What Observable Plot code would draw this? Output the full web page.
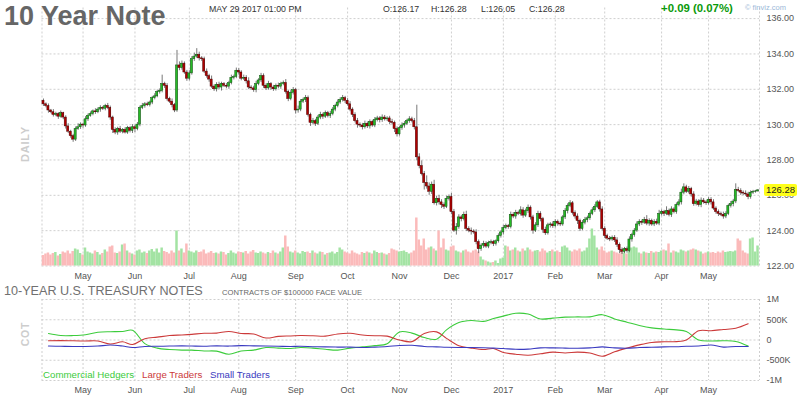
<!DOCTYPE html>
<html><head><meta charset="utf-8">
<script src="https://cdn.jsdelivr.net/npm/d3@7"></script>
<script src="https://cdn.jsdelivr.net/npm/@observablehq/plot@0.6"></script>
<style>
body{margin:0;background:#fff;}
#wrap{position:relative;width:800px;height:398px;overflow:hidden;font-family:Arial,"Liberation Sans",sans-serif;background:#fff;}
#wrap svg{position:absolute;left:0;}
.t{position:absolute;white-space:nowrap;line-height:1;}
</style></head><body><div id="wrap"></div>
<script>
// ---------- data ----------
const startDate = "2016-04-08", endDate = "2017-05-29";
const holidays = ["2016-05-30","2016-07-04","2016-09-05","2016-11-24","2016-12-26","2017-01-02","2017-04-14"];
const firstOpen = 131.35;
const closes = [
131.15,131.05,130.80,130.70,130.55,130.60,130.45,130.65,130.40,129.90,
129.60,129.35,129.15,129.75,129.85,130.00,129.95,130.30,130.50,130.60,
130.75,130.70,130.85,130.95,130.90,131.05,130.95,130.40,129.70,129.55,
129.75,129.60,129.70,129.55,129.80,129.65,129.85,129.75,130.00,130.95,
131.05,131.15,131.10,131.25,131.50,131.60,131.85,131.90,132.30,132.20,
131.45,131.30,131.10,130.80,133.35,133.20,133.45,132.95,132.60,132.90,
133.70,133.85,133.95,133.75,133.70,133.00,132.75,132.55,132.15,132.00,
132.25,132.10,132.30,132.20,132.15,132.35,132.65,132.70,133.05,132.95,
132.60,132.65,132.45,132.10,132.05,131.95,132.30,132.50,132.75,132.20,
132.05,132.30,132.10,132.00,132.20,132.15,132.30,132.35,131.85,131.45,
131.80,131.95,130.80,130.85,131.30,131.40,131.50,130.55,130.10,130.20,
130.05,130.40,130.55,130.45,130.65,130.50,130.60,130.85,131.05,131.25,
131.40,131.50,131.35,131.15,130.85,130.55,130.20,130.00,129.95,129.85,
130.05,129.90,130.15,129.95,130.25,130.35,130.25,130.40,130.30,130.35,
130.15,130.10,129.75,129.45,129.80,129.95,130.05,130.20,130.30,130.20,
129.85,128.15,127.65,127.20,126.70,126.50,126.20,126.60,125.55,125.80,
125.60,125.45,125.35,125.80,125.90,125.05,124.00,124.20,124.75,124.65,
124.90,124.10,124.00,123.95,123.90,123.35,122.95,123.15,123.25,123.10,
123.30,123.35,123.25,123.40,123.70,123.90,124.15,124.25,124.20,124.90,
124.80,125.00,124.95,125.15,124.85,125.10,125.30,124.75,124.00,124.30,
124.95,124.65,124.05,123.85,124.30,124.35,124.25,124.50,124.40,124.35,
124.75,125.10,125.40,125.55,125.00,124.80,124.55,124.10,124.45,124.60,
124.70,124.95,125.15,125.35,125.60,125.20,124.10,123.70,123.55,123.50,
123.60,123.45,123.20,122.90,122.80,122.95,122.85,123.50,123.75,124.00,
124.35,124.50,124.45,124.60,124.40,124.55,124.35,124.50,124.40,124.95,
125.05,124.95,125.10,124.90,125.20,125.05,125.45,125.60,126.15,126.45,
126.20,126.35,126.05,125.50,125.65,125.45,125.70,125.60,125.55,125.75,
125.60,125.25,125.05,124.95,124.90,124.80,124.95,125.40,125.50,125.65,
126.30,126.25,126.15,126.10,126.05,125.90,126.15,126.20,126.22,126.28];
// wick lengths above / below the body, in hundredths
const upperWick = [
10,8,12,6,15,10,8,12,5,10, 15,8,10,12,20,10,8,15,10,12, 8,15,10,12,8,10,15,10,8,12,
10,15,8,12,10,8,15,10,12,10, 15,10,12,8,10,15,10,12,50,10, 12,10,15,10,85,20,15,10,12,15,
15,20,35,15,10,12,15,10,20,10, 12,15,10,8,12,10,15,10,15,12, 10,15,12,20,10,12,15,10,15,12,
10,15,8,12,10,15,10,12,20,10, 12,15,10,20,12,10,15,12,10,15, 10,12,15,10,12,10,15,12,10,15,
12,15,10,12,15,10,12,15,10,12, 15,10,12,10,15,12,10,15,12,10, 12,15,10,12,10,15,12,10,15,12,
15,125,20,30,15,40,20,15,25,15, 20,15,12,15,12,20,15,20,15,12, 15,20,12,15,10,15,12,10,15,12,
10,12,10,8,12,10,15,12,10,15, 12,15,10,20,15,12,15,10,12,15, 15,12,10,15,12,10,15,12,10,12,
10,15,12,15,10,12,15,10,12,15, 12,10,15,12,10,12,15,12,10,12, 10,12,15,10,12,10,12,15,10,12,
15,12,10,15,25,12,10,12,15,20, 12,10,25,12,15,10,12,15,20,20, 12,15,10,15,12,10,15,12,10,12,
12,15,10,12,10,15,12,10,15,12, 35,15,12,10,15,12,10,8,6,5];
const lowerWick = [
12,10,15,8,12,10,15,8,12,15, 10,12,15,10,8,12,15,10,12,8, 10,12,8,15,10,12,10,15,20,12,
15,10,12,8,10,12,15,20,10,12, 10,12,8,10,12,10,8,12,10,15, 12,10,15,12,10,15,12,10,15,12,
10,12,10,15,12,10,12,15,10,12, 15,12,20,10,12,15,10,12,10,15, 12,10,15,12,10,12,15,10,12,15,
12,10,15,12,10,12,15,10,12,15, 10,12,20,15,12,10,15,12,20,12, 15,10,12,15,10,12,15,10,12,10,
10,12,15,10,12,15,10,20,12,15, 10,12,15,10,12,10,15,12,10,12, 15,12,20,15,10,12,15,10,12,10,
15,20,15,10,40,15,20,15,10,15, 15,20,15,10,12,15,10,25,12,15, 10,15,12,20,10,15,25,12,15,10,
12,10,15,12,10,12,15,10,12,10, 12,15,10,12,15,10,12,15,20,10, 12,15,20,12,10,15,12,10,15,12,
10,12,15,10,12,15,20,15,10,12, 15,12,10,12,10,15,12,15,10,12, 10,12,15,20,15,10,12,10,15,12,
10,12,15,10,12,15,10,12,10,12, 12,15,10,12,15,10,12,10,15,12, 10,12,15,12,10,12,15,10,12,10,
15,10,12,15,10,15,12,10,12,15, 12,10,15,12,10,15,12,10,8,5];
// volume, thousands of contracts
const volume = [
1050,1200,1300,1100,1250,1350,1000,1150,1400,1300, 1500,1200,1450,1700,1600,1250,1100,1800,1400,1300,
1200,1500,1350,1100,1250,1600,1400,1900,2000,1300, 1250,1400,2100,2200,1500,1300,1200,1100,1500,1600,
1300,1400,1250,1500,1650,1400,1700,1300,1800,1450, 1350,1200,1500,1300,3500,1500,1700,1300,2200,1500,
1400,1300,1500,1350,1400,1600,1200,1300,1450,1250, 1300,1200,1400,1350,1100,1250,1500,1300,1200,1400,
1350,1300,1450,1200,1400,1550,1300,1250,1400,1300, 1200,1350,1250,1500,1300,1200,1400,1800,3000,1900,
1400,1300,1500,1300,1200,1450,1350,1400,1250,1500, 1300,1200,1400,1350,1100,1250,1300,1400,1200,1350,
1800,1600,1400,1300,1200,1500,1300,1200,1100,1350, 1250,1400,1300,1200,1500,1350,1250,1300,1200,1100,
1250,1700,1600,1500,1400,1450,1500,1350,1200,1300, 1500,4800,2600,2000,2700,1600,1800,1900,1700,1500,
3500,1800,2700,1600,1500,1900,2000,1500,1400,1300, 1500,1600,1400,1300,1500,1600,1400,900,600,500,
400,300,350,500,250,700,800,2000,1900,1500, 1600,1800,1500,1400,1700,1500,1800,1600,1400,1500,
1550,1400,1700,1500,1300,1450,1600,1400,1500,1350, 1900,2000,1800,1500,1400,1600,1500,1700,1400,1500,
1800,2700,3700,3000,1800,1600,1900,1500,1300,1400, 1500,1400,1300,1200,1500,1300,1200,1700,1800,1900,
1800,1300,1200,1400,1300,1250,1450,1300,1400,1350, 1500,1600,1500,2200,1300,1500,1400,1300,1600,1500,
1400,1500,1600,1700,1600,1500,1400,1200,1300,1400, 1300,1350,1250,1400,1300,1500,1350,1400,1450,1400,
1500,2700,2500,1500,1300,1200,2700,2800,1400,2000];
const monthLabels = ["May","Jun","Jul","Aug","Sep","Oct","Nov","Dec","2017","Feb","Mar","Apr","May"];
const priceTicks = [122,124,126,128,130,132,134,136];
const cotTicks = [1000,500,0,-500,-1000];
const cotTickLabels = ["1M","500K","0","-500K","-1M"];
// COT weekly net positions (thousands of contracts), every Tuesday from cotStart
const cotStart = "2016-04-12";
const commercial = [160,110,110,130,190,205,210,240,-90,-200,-235,-250,-250,-270,-275,-350,-270,-250,-185,-200,
 -210,-185,-200,-230,-250,-200,-170,-140,-90,200,170,60,20,250,430,480,460,530,590,660,
 640,520,540,565,570,570,625,520,440,360,300,270,250,210,0,-25,-20,-35,-150];
const largeTraders = [-20,-15,-20,-25,-25,-100,-45,-110,30,70,110,125,140,165,170,210,160,150,50,90,
 100,110,105,95,150,165,125,105,95,0,-40,160,200,40,-140,-200,-235,-210,-310,-350,
 -375,-340,-300,-320,-300,-320,-400,-290,-200,-120,-60,-45,-40,0,230,230,260,290,400];
const smallTraders = [-150,-155,-160,-160,-150,-125,-150,-185,-160,-155,-150,-145,-150,-155,-145,-150,-140,-145,-150,-155,
 -160,-155,-165,-170,-175,-175,-185,-175,-160,-135,-130,-160,-170,-180,-185,-185,-190,-200,-210,-230,
 -225,-195,-195,-200,-205,-195,-170,-195,-205,-185,-180,-170,-165,-155,-150,-125,-175,-160,-160];

// ---------- build ----------
const fmt = d3.utcFormat("%Y-%m-%d");
const days = d3.utcDay.range(new Date(startDate+"T00:00Z"), d3.utcDay.offset(new Date(endDate+"T00:00Z"),1))
  .filter(d => d.getUTCDay()!==0 && d.getUTCDay()!==6 && !holidays.includes(fmt(d)));
const n = Math.min(days.length, closes.length);
const candles = d3.range(n).map(i => {
  const o = i===0 ? firstOpen : closes[i-1], c = closes[i];
  return {i, o, c, h: Math.max(o,c)+upperWick[i]/100, l: Math.min(o,c)-lowerWick[i]/100, v: volume[i], up: c>=o};
});
const monthIdx = [];
for (let i=1;i<n;i++) if (days[i].getUTCMonth()!==days[i-1].getUTCMonth()) monthIdx.push(i);
const monthFmt = d => monthLabels[monthIdx.indexOf(d)] ?? "";
const dayIndex = new Map(days.map((d,i)=>[fmt(d),i]));
const cotRows = [];
[["Commercial Hedgers",commercial],["Large Traders",largeTraders],["Small Traders",smallTraders]].forEach(([s,arr])=>{
  arr.forEach((v,k)=>{
    const d = d3.utcDay.offset(new Date(cotStart+"T00:00Z"), 7*k);
    const xi = dayIndex.get(fmt(d));
    if (xi!==undefined) cotRows.push({series:s, x:xi, v});
  });
});

const W = 800;
const xDomain = [-0.6, n-0.4];
const grid = {stroke:"#cfcfcf", strokeDasharray:"2,2", strokeWidth:1};
const baseStyle = {background:"transparent", fontFamily:"Arial, 'Liberation Sans', sans-serif", fontSize:"9px", color:"#555", overflow:"visible"};
const topOpts = {width:W, height:282, marginLeft:41.5, marginRight:41, marginTop:7.5, marginBottom:16.5, style:baseStyle};

const gridPlot = Plot.plot({...topOpts,
  x:{domain:xDomain, axis:null}, y:{domain:[122,136.6], axis:null},
  marks:[
    Plot.ruleY(priceTicks, grid),
    Plot.ruleX([xDomain[0], ...monthIdx, xDomain[1]], grid)
  ]});

const volPlot = Plot.plot({...topOpts, marginTop:215.5,
  x:{domain:xDomain, axis:null}, y:{domain:[0,5000], axis:null},
  marks:[
    Plot.rect(candles, {x1:d=>d.i-0.5, x2:d=>d.i+0.5, y1:()=>0, y2:"v", fill:d=>d.up?"#a3e3a3":"#fbbaba"})
  ]});

const pricePlot = Plot.plot({...topOpts,
  x:{domain:xDomain, ticks:monthIdx, tickFormat:monthFmt, tickSize:0, tickPadding:7, label:null},
  y:{domain:[122,136.6], axis:"right", ticks:priceTicks, tickFormat:d=>d.toFixed(2), tickSize:0, tickPadding:7, label:null},
  marks:[
    Plot.ruleX(candles, {x:"i", y1:"l", y2:"h", stroke:"#555", strokeWidth:0.8}),
    Plot.rect(candles, {x1:d=>d.i-0.42, x2:d=>d.i+0.42, y1:"o", y2:"c",
      fill:d=>d.up?"#26bb26":"#b00000", stroke:d=>d.up?"#0d4f0d":"#4a0000", strokeWidth:0.5})
  ]});

const cotPlot = Plot.plot({width:W, height:116, marginLeft:41.5, marginRight:41, marginTop:17, marginBottom:18,
  style:baseStyle,
  x:{domain:xDomain, ticks:monthIdx, tickFormat:monthFmt, tickSize:0, tickPadding:6, label:null},
  y:{domain:[-1000,1000], axis:"right", ticks:cotTicks, tickFormat:d=>cotTickLabels[cotTicks.indexOf(d)], tickSize:0, tickPadding:7, label:null},
  color:{domain:["Commercial Hedgers","Large Traders","Small Traders"], range:["#3ccc3c","#cc3a3a","#3a3ac0"]},
  marks:[
    Plot.ruleY(cotTicks, grid),
    Plot.ruleX([xDomain[0], ...monthIdx, xDomain[1]], grid),
    Plot.line(cotRows, {x:"x", y:"v", z:"series", stroke:"series", strokeWidth:1.1, curve:"catmull-rom"})
  ]});

const wrap = document.getElementById("wrap");
for (const [p,t] of [[gridPlot,0],[volPlot,0],[pricePlot,0],[cotPlot,282]]) {
  p.style.top = t+"px"; wrap.appendChild(p);
}

function txt(s, css){ const d=document.createElement("div"); d.className="t"; d.textContent=s; Object.assign(d.style, css); wrap.appendChild(d); return d; }
txt("10 Year Note", {left:"4px", top:"2.5px", fontSize:"27px", fontWeight:"bold", color:"#666"});
txt("MAY 29 2017 01:00 PM", {left:"209px", top:"4.5px", fontSize:"8.8px", color:"#333"});
txt("O:126.17", {left:"383px", top:"4.5px", fontSize:"8.8px", color:"#333"});
txt("H:126.28", {left:"431px", top:"4.5px", fontSize:"8.8px", color:"#333"});
txt("L:126.05", {left:"481px", top:"4.5px", fontSize:"8.8px", color:"#333"});
txt("C:126.28", {left:"529px", top:"4.5px", fontSize:"8.8px", color:"#333"});
txt("+0.09 (0.07%)", {left:"661px", top:"3px", fontSize:"11.4px", fontWeight:"bold", color:"#0a9a0a"});
txt("\u00a9 finviz.com", {left:"745px", top:"3.5px", fontSize:"7.5px", color:"#9bb8d8"});
txt("DAILY", {left:"25px", top:"144px", fontSize:"11px", fontWeight:"bold", color:"#cdcdcd", letterSpacing:"0.8px", transform:"translate(-50%,-50%) rotate(-90deg)"});
txt("COT", {left:"25px", top:"334px", fontSize:"10.5px", fontWeight:"bold", color:"#cdcdcd", letterSpacing:"0.8px", transform:"translate(-50%,-50%) rotate(-90deg)"});
txt("10-YEAR U.S. TREASURY NOTES", {left:"4px", top:"284.5px", fontSize:"12.6px", color:"#707070"});
txt("CONTRACTS OF $100000 FACE VALUE", {left:"222px", top:"289px", fontSize:"7.6px", color:"#666"});
txt("Commercial Hedgers", {left:"43px", top:"370.2px", fontSize:"9.7px", color:"#3ccc3c"});
txt("Large Traders", {left:"142px", top:"370.2px", fontSize:"9.7px", color:"#cc3a3a"});
txt("Small Traders", {left:"210px", top:"370.2px", fontSize:"9.7px", color:"#3a3ac0"});

// last price tag, placed with the price scale (covers the 126.00 tick as in the original)
const lastClose = closes[n-1];
const yLast = pricePlot.scale("y").apply(lastClose);
txt(lastClose.toFixed(2), {left:"764px", top:(yLast-6)+"px", height:"12px", lineHeight:"12px", padding:"0 2px", fontSize:"9.5px", color:"#222", background:"#ffff1a", borderRadius:"2px"});
</script>
</body></html>
